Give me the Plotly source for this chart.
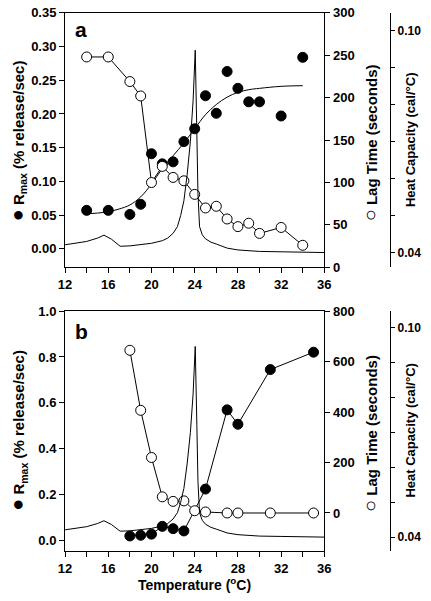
import plotly.graph_objects as go

# ---------------- data ----------------
# Panel a
temp_a = [14, 16, 18, 19, 20, 21, 22, 23, 24, 25, 26, 27, 28, 29, 30, 32, 34]
rmax_a = [0.057, 0.057, 0.051, 0.066, 0.141, 0.126, 0.129, 0.159, 0.178, 0.227,
          0.201, 0.263, 0.238, 0.218, 0.218, 0.197, 0.284]
lag_a = [248, 248, 219, 202, 100, 119, 106, 102, 86, 70, 72, 57, 48, 52, 40, 47, 26]

fit_temp_a = [14, 15, 16, 17, 18, 19, 20, 21, 22, 23, 24, 25, 26, 27, 28, 29, 30, 32, 34]
fit_rmax_a = [0.052, 0.053, 0.055, 0.059, 0.065, 0.077, 0.096, 0.119, 0.138, 0.157,
              0.178, 0.199, 0.214, 0.225, 0.232, 0.236, 0.238, 0.241, 0.242]

# Panel b
temp_b_rmax = [18, 19, 20, 21, 22, 23, 25, 27, 28, 31, 35]
rmax_b = [0.018, 0.021, 0.026, 0.060, 0.050, 0.040, 0.223, 0.569, 0.506, 0.745, 0.821]
temp_b_lag = [18, 19, 20, 21, 22, 23, 24, 25, 27, 28, 31, 35]
lag_b = [645, 407, 220, 64, 46, 48, 9, 4, 0, 0, 0, 0]

# DSC heat capacity trace (same in both panels)
dsc_temp = [12, 13, 14, 15, 15.6, 16.3, 17.1, 18, 19, 20, 21, 21.5, 22, 22.4, 22.7,
            23.0, 23.3, 23.6, 23.85, 24.05, 24.2, 24.3, 24.45, 24.7, 25.0, 25.5, 26,
            27, 28, 29, 30, 32, 34, 36]
dsc_cp = [0.0421, 0.0425, 0.0430, 0.0439, 0.0447, 0.0436, 0.0417, 0.0418, 0.0421,
          0.0425, 0.0432, 0.0439, 0.0452, 0.0470, 0.0500, 0.0540, 0.0610, 0.0700,
          0.0810, 0.0947, 0.0720, 0.0560, 0.0470, 0.0448, 0.0437, 0.0428, 0.0423,
          0.0412, 0.0407, 0.0405, 0.0403, 0.0402, 0.0401, 0.0400]

x_ticks = [12, 14, 16, 18, 20, 22, 24, 26, 28, 30, 32, 34, 36]
x_ticktext = ["12", " ", "16", " ", "20", " ", "24", " ", "28", " ", "32", " ", "36"]
cp_ticks = [0.04, 0.05, 0.06, 0.07, 0.08, 0.09, 0.10]
cp_ticktext = ["0.04", " ", " ", " ", " ", " ", "0.10"]

# ---------------- figure ----------------
W, H = 431, 601
FONT = "Arial, Liberation Sans, sans-serif"
BLACK = "black"

fig = go.Figure()

line_style = dict(color=BLACK, width=1)
filled = dict(size=10, color=BLACK, line=dict(color=BLACK, width=1))
opened = dict(size=10, color="white", line=dict(color=BLACK, width=1))

# Panel a
fig.add_trace(go.Scatter(x=temp_a, y=rmax_a, mode="markers", marker=filled,
                         xaxis="x", yaxis="y", showlegend=False))
fig.add_trace(go.Scatter(x=fit_temp_a, y=fit_rmax_a, mode="lines", line=line_style,
                         line_shape="spline", xaxis="x", yaxis="y", showlegend=False))
fig.add_trace(go.Scatter(x=temp_a, y=lag_a, mode="lines+markers", line=line_style,
                         marker=opened, xaxis="x", yaxis="y2", showlegend=False))
fig.add_trace(go.Scatter(x=dsc_temp, y=dsc_cp, mode="lines", line=line_style,
                         xaxis="x", yaxis="y3", showlegend=False))

# Panel b
fig.add_trace(go.Scatter(x=temp_b_rmax, y=rmax_b, mode="lines+markers", line=line_style,
                         marker=filled, xaxis="x2", yaxis="y4", showlegend=False))
fig.add_trace(go.Scatter(x=temp_b_lag, y=lag_b, mode="lines+markers", line=line_style,
                         marker=opened, xaxis="x2", yaxis="y5", showlegend=False))
fig.add_trace(go.Scatter(x=dsc_temp, y=dsc_cp, mode="lines", line=line_style,
                         xaxis="x2", yaxis="y6", showlegend=False))

tickfont = dict(family=FONT, size=13, color=BLACK, weight="bold")
tickfont_cp = dict(family=FONT, size=12, color=BLACK, weight="bold")

xdom = [60 / W, 328 / W]
ydom_a = [1 - 267 / H, 1 - 6 / H]
ydom_b = [1 - 558 / H, 1 - 312 / H]

common = dict(showgrid=False, zeroline=False, showline=True, linecolor=BLACK,
              linewidth=1, ticks="outside", ticklen=5, tickwidth=1, tickcolor=BLACK)

def xaxis(anchor):
    return dict(domain=xdom, range=[12, 36], tickvals=x_ticks, ticktext=x_ticktext,
                anchor=anchor, mirror=True, tickfont=tickfont, **common)

CP_POS = 396 / W

fig.update_layout(
    width=W, height=H,
    margin=dict(l=0, r=0, t=0, b=0),
    paper_bgcolor="white", plot_bgcolor="white",
    xaxis=xaxis("y"),
    xaxis2=xaxis("y4"),
    yaxis=dict(domain=ydom_a, range=[-0.0275, 0.35], tickvals=[0, 0.05, 0.10, 0.15, 0.20, 0.25, 0.30, 0.35],
               tickformat=".2f", anchor="x", tickfont=tickfont, **common),
    yaxis2=dict(range=[0, 300], tickvals=[0, 50, 100, 150, 200, 250, 300], overlaying="y",
                side="right", anchor="x", tickfont=tickfont, **common),
    yaxis3=dict(range=[0.036, 0.1048], tickvals=cp_ticks, ticktext=cp_ticktext, overlaying="y",
                side="right", anchor="free", position=CP_POS, tickfont=tickfont_cp,
                **{**common, "ticklen": 4}),
    yaxis4=dict(domain=ydom_b, range=[-0.048, 1.0], tickvals=[0, 0.2, 0.4, 0.6, 0.8, 1.0],
                tickformat=".1f", anchor="x2", tickfont=tickfont, **common),
    yaxis5=dict(range=[-151, 800], tickvals=[0, 200, 400, 600, 800], overlaying="y4",
                side="right", anchor="x2", tickfont=tickfont, **common),
    yaxis6=dict(range=[0.036, 0.1048], tickvals=cp_ticks, ticktext=cp_ticktext, overlaying="y4",
                side="right", anchor="free", position=CP_POS, tickfont=tickfont_cp,
                **{**common, "ticklen": 4}),
)

def ann(text, x, y, size, angle=0):
    fig.add_annotation(text=text, x=x / W, y=1 - y / H, xref="paper", yref="paper",
                       showarrow=False, textangle=angle, xanchor="center", yanchor="middle",
                       font=dict(family=FONT, size=size, color=BLACK, weight="bold"))

rmax_title = "<span style='font-size:20px'>\u25CF</span> R<sub>max</sub> (% release/sec)"
lag_title = "<span style='font-size:20px'>\u25CB</span> Lag Time (seconds)"
cp_title = "Heat Capacity (cal/\u00B0C)"

ann(rmax_title, 11, 137, 15, -90)
ann(lag_title, 375, 139, 15, -90)
ann(cp_title, 417, 136, 13, -90)
ann(rmax_title, 11, 434, 15, -90)
ann(lag_title, 375, 437, 15, -90)
ann(cp_title, 417, 434, 13, -90)
ann("Temperature (<sup>o</sup>C)", 194, 592, 14)
ann("a", 76, 23, 21)
ann("b", 77, 333, 21)

fig.write_html("out.html",
               config={"displayModeBar": False},
               post_script="document.body.style.margin='0';document.body.style.overflow='hidden';")
